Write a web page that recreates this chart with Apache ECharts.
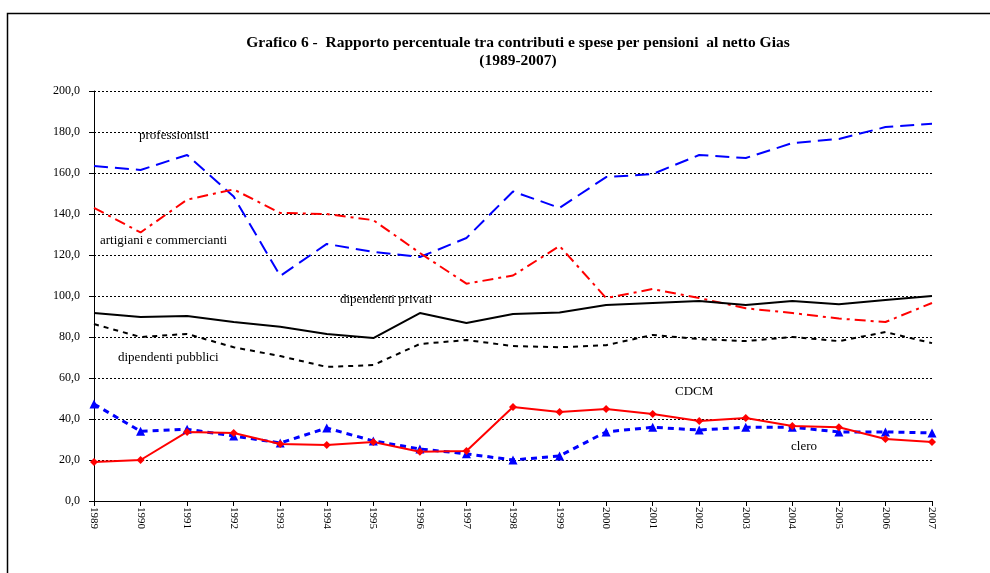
<!DOCTYPE html>
<html>
<head>
<meta charset="utf-8">
<script src="https://cdn.jsdelivr.net/npm/echarts@6/dist/echarts.min.js"></script>
<style>
  html, body { margin: 0; padding: 0; background: #fff; }
  #chart { width: 990px; height: 573px; }
</style>
</head>
<body>
<div id="chart"></div>
<script>
var years = ['1989','1990','1991','1992','1993','1994','1995','1996','1997','1998',
             '1999','2000','2001','2002','2003','2004','2005','2006','2007'];
var yTicks = [0, 20, 40, 60, 80, 100, 120, 140, 160, 180, 200];

var professionisti = [163.4,161.5,168.8,148.5,109.8,125.4,121.5,119,128.3,151,
                      143,158,159.5,168.8,167.3,174.6,176.6,182.4,184];
var artigiani = [143,131,147,152,140.5,140,137,121,106,110,
                 124.4,99,103.4,99,94,91.7,89,87.3,96.6];
var privati = [91.7,89.8,90.2,87.3,85,81.5,79.5,91.7,86.8,91.2,
               92,95.6,96.6,97.6,95.6,97.6,96,98,100];
var pubblici = [86.3,80,81.5,75,70.7,65.4,66.3,76.6,78.5,75.6,
                75,76,81,79,78,80,78,82.4,77];
var cdcm = [19,20,33.7,33.2,27.8,27.3,28.8,24,24.4,45.9,
            43.4,44.9,42.4,39,40.5,36.6,36,30.2,28.8];
var clero = [47.3,34,35,31.7,28.3,35.6,29.3,25.4,23,20,
             22,33.7,36,34.6,36,36,33.7,33.7,33.2];

var serif = '"Liberation Serif", "DejaVu Serif", serif';

var chart = echarts.init(document.getElementById('chart'));

function lineSeries(name, data, color, type, width, extra) {
  var s = {
    name: name,
    type: 'line',
    data: data,
    symbol: 'none',
    animation: false,
    lineStyle: { color: color, width: width, type: type },
    itemStyle: { color: color }
  };
  return Object.assign(s, extra || {});
}

var option = {
  backgroundColor: '#fff',
  title: {
    text: 'Grafico 6 -  Rapporto percentuale tra contributi e spese per pensioni  al netto Gias\n(1989-2007)',
    left: 513,
    top: 29,
    textAlign: 'center',
    textStyle: { fontFamily: serif, fontSize: 15.5, fontWeight: 'bold', color: '#000', lineHeight: 18 }
  },
  grid: { left: 94, right: 58, top: 91, bottom: 72 },
  xAxis: {
    type: 'category',
    data: years,
    boundaryGap: false,
    axisLine: { lineStyle: { color: '#000', width: 1 } },
    axisTick: { show: true, length: 5, lineStyle: { color: '#000' } },
    axisLabel: { rotate: -90, fontFamily: serif, fontSize: 11, color: '#000', margin: 6 },
    splitLine: { show: false }
  },
  yAxis: {
    type: 'value',
    min: yTicks[0],
    max: yTicks[yTicks.length - 1],
    interval: 20,
    axisLine: { show: true, lineStyle: { color: '#000', width: 1 } },
    axisTick: { show: true, length: 5, lineStyle: { color: '#000' } },
    axisLabel: {
      fontFamily: serif, fontSize: 12, color: '#000', margin: 14,
      formatter: function (v) { return v.toFixed(1).replace('.', ','); }
    },
    splitLine: { show: true, lineStyle: { color: '#000', width: 1, type: [2, 2] } }
  },
  series: [
    lineSeries('professionisti', professionisti, '#0000ff', [14, 7], 2),
    lineSeries('artigiani e commercianti', artigiani, '#ff0000', [11, 5, 3, 5], 2),
    lineSeries('dipendenti privati', privati, '#000', 'solid', 2),
    lineSeries('dipendenti pubblici', pubblici, '#000', [5, 5], 2),
    lineSeries('clero', clero, '#0000ff', [6, 5], 3, {
      symbol: 'triangle', symbolSize: 9, showSymbol: true
    }),
    lineSeries('CDCM', cdcm, '#ff0000', 'solid', 2, {
      symbol: 'diamond', symbolSize: 8, showSymbol: true
    })
  ],
  graphic: [
    { type: 'rect', left: 5, top: 11, shape: { width: 1000, height: 600 },
      style: { fill: 'none', stroke: '#000', lineWidth: 1.5 }, silent: true, z: 100 },
    { type: 'text', left: 139, top: 129, style: { text: 'professionisti', font: '13px ' + serif, fill: '#000' } },
    { type: 'text', left: 100, top: 234, style: { text: 'artigiani e commercianti', font: '13px ' + serif, fill: '#000' } },
    { type: 'text', left: 340, top: 293, style: { text: 'dipendenti privati', font: '13px ' + serif, fill: '#000' } },
    { type: 'text', left: 118, top: 351, style: { text: 'dipendenti pubblici', font: '13px ' + serif, fill: '#000' } },
    { type: 'text', left: 675, top: 385, style: { text: 'CDCM', font: '13px ' + serif, fill: '#000' } },
    { type: 'text', left: 791, top: 440, style: { text: 'clero', font: '13px ' + serif, fill: '#000' } }
  ]
};

chart.setOption(option);
</script>
</body>
</html>
